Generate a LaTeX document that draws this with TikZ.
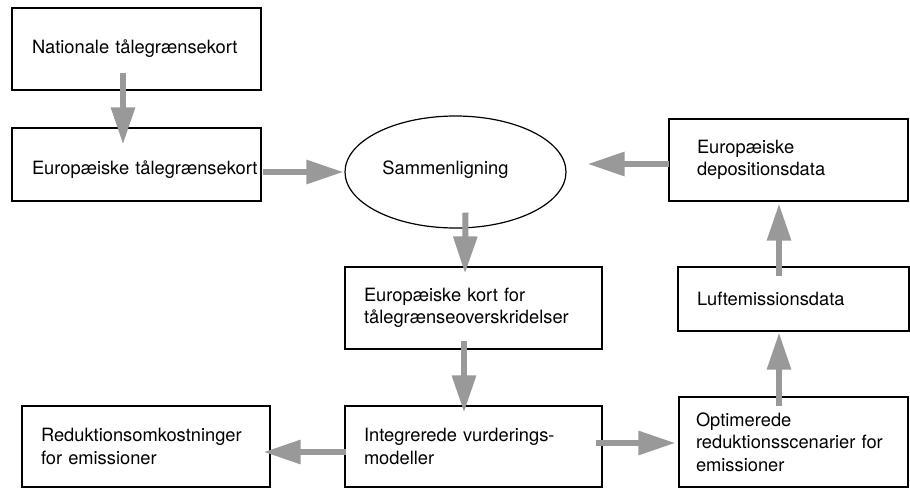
\documentclass[tikz,border=0pt]{standalone}
\usepackage{fontspec}
\setmainfont{TeX Gyre Heros}
\usetikzlibrary{arrows.meta,shapes.geometric,calc}
\definecolor{flowgray}{RGB}{153,153,153}
\hyphenpenalty=10000
\exhyphenpenalty=10000
\begin{document}
\begin{tikzpicture}[x=1pt,y=-1pt,
  txt/.style={font=\fontsize{18.3}{22.5}\selectfont},
  box/.style={txt, draw, line width=1.2pt, align=left, inner xsep=19pt, inner ysep=0pt},
  flow/.style={draw=flowgray, line width=6pt, -{Triangle[length=37pt,width=23pt]}},
]
\useasboundingbox (0,0) rectangle (910,488);

% boxes
\node[box, inner xsep=20pt, text width=209pt, minimum height=82pt] (nat) at (136.5,49) {Nationale~tålegrænsekort};
\node[box, inner xsep=20pt, text width=209pt, minimum height=73pt, text height=25pt, text depth=5pt] (eut) at (136.5,164.5) {Europæiske~tålegrænsekort};
\node[draw, ellipse, line width=1.2pt, minimum width=221pt, minimum height=112pt, inner sep=0pt] (cmp) at (455.5,172) {};
\node[txt] (cmptext) at ([xshift=-10pt,yshift=2pt]cmp.center) {Sammenligning};
\node[box, text width=219pt, minimum height=82pt] (exc) at (473.5,308) {Europæiske~kort~for\\tålegrænseoverskridelser};
\node[box, text width=210pt, minimum height=81pt] (red) at (146,446.5) {Reduktionsomkostninger\\for~emissioner};
\node[box, text width=219pt, minimum height=81pt] (iam) at (473.5,446.5) {Integrerede~vurderings-\\modeller};
\node[box, inner xsep=17pt, text width=195pt, minimum height=90pt] (opt) at (793.5,442) {Optimerede\\reduktionsscenarier~for\\emissioner};
\node[box, text width=193pt, minimum height=64pt] (air) at (793.5,299) {Luftemissionsdata};
\node[box, inner xsep=28pt, text width=183pt, minimum height=82pt] (dep) at (788.5,160) {Europæiske\\depositionsdata};

% flows
\draw[flow] ($(nat.south)+(-13.5,-18)$) -- ($(eut.north)+(-13.5,17)$);
\draw[flow] ($(eut.east)+(1,7.5)$) -- ($(cmp.west)+(-1,0)$);
\draw[flow] ($(cmp.south)+(10,-16)$) -- ($(exc.north)+(-8.5,7)$);
\draw[flow] ($(exc.south)+(-9.5,-9)$) -- ($(iam.north)+(-9.5,7)$);
\draw[flow] ($(iam.west)+(2,5.5)$) -- ($(red.east)+(-7,5.5)$);
\draw[flow] ($(iam.east)+(-7,-3.5)$) -- ($(opt.west)+(-3,1)$);
\draw[flow] ($(opt.north)+(-14.5,10)$) -- ($(air.south)+(-14.5,1)$);
\draw[flow] ($(air.north)+(-14.5,10)$) -- ($(dep.south)+(-9.5,2)$);
\draw[flow] ($(dep.west)+(1,4)$) -- ($(cmp.east)+(21,-8)$);
\end{tikzpicture}
\end{document}
